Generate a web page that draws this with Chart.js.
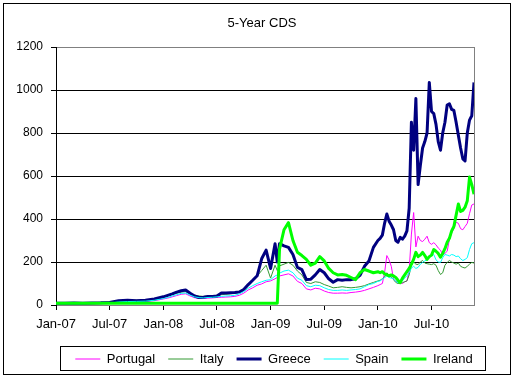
<!DOCTYPE html>
<html lang="en">
<head>
  <meta charset="UTF-8" />
  <title>5-Year CDS</title>
  <script src="https://cdn.jsdelivr.net/npm/chart.js"></script>
  <style>
    html, body { margin: 0; padding: 0; background: #fff; }
  </style>
</head>
<body>
  <canvas id="cds" width="514" height="377"></canvas>

  <script>
    // months since Jan 2007 (finer steps where the lines move a lot)
    const months = [
      0, 1, 2, 3, 4, 5, 6, 7, 8, 9, 10, 11, 12,
      12.5, 13, 13.5, 14, 14.5, 15, 15.5, 16, 16.5, 17, 17.5, 18, 18.5, 19, 19.5, 20, 20.5, 21, 21.5, 22, 22.5, 23, 23.5, 24, 24.5, 24.75,
      25, 25.5, 26, 26.5, 27, 27.5, 28, 28.5, 29, 29.5, 30, 30.5, 31, 31.5, 32, 32.5, 33, 33.5, 34, 34.5, 35, 35.5, 36,
      36.25, 36.5, 36.75, 37, 37.25, 37.5, 37.75, 38, 38.25, 38.5, 38.75, 39, 39.25, 39.5, 39.75, 40,
      40.25, 40.5, 40.75, 41, 41.25, 41.5, 41.75, 42, 42.25, 42.5, 42.75, 43, 43.25, 43.5, 43.75, 44,
      44.25, 44.5, 44.75, 45, 45.25, 45.5, 45.75, 46, 46.25, 46.5, 46.75
    ];
    const xTickLabels = ['Jan-07', 'Jul-07', 'Jan-08', 'Jul-08', 'Jan-09', 'Jul-09', 'Jan-10', 'Jul-10'];

    const portugal = [
      5, 5, 5, 5, 5, 6, 8, 12, 14, 15, 16, 20, 28,
      32, 38, 44, 50, 52, 42, 34, 30, 30, 32, 33, 35, 36, 37, 38, 40, 45, 55, 70, 80, 92, 98, 108, 112, 122, 128,
      135, 140, 145, 135, 110, 100, 75, 70, 78, 75, 65, 58, 55, 55, 56, 55, 58, 60, 63, 68, 75, 82, 90,
      95, 100, 150, 230, 210, 180, 120, 110, 108, 104, 100, 108, 112, 160, 330, 430,
      270, 320, 300, 295, 306, 320, 290, 282, 290, 280, 265, 255, 235, 240, 250, 305,
      335, 355, 385, 380, 355, 350, 365, 380, 425, 465, 470
    ];
    const italy = [
      10, 10, 10, 10, 11, 12, 14, 20, 22, 22, 23, 28, 36,
      42, 50, 55, 60, 62, 52, 45, 42, 40, 42, 43, 45, 48, 50, 52, 55, 62, 75, 95, 112, 135, 160, 185, 125, 185, 160,
      182, 190, 198, 185, 158, 140, 105, 100, 108, 105, 95, 88, 80, 82, 85, 82, 80, 82, 85, 90, 98, 105, 112,
      115, 122, 130, 150, 138, 130, 118, 105, 100, 102, 104, 108, 112, 140, 185, 200,
      190, 188, 200, 207, 195, 192, 190, 188, 192, 185, 160, 142, 150, 185, 198, 207,
      200, 195, 190, 195, 180, 175, 172, 180, 190, 198, 195
    ];
    const greece = [
      8, 8, 9, 8, 9, 10, 12, 20, 22, 20, 22, 28, 38,
      45, 52, 60, 66, 70, 55, 42, 35, 36, 40, 40, 42, 56, 56, 57, 58, 60, 72, 95, 115, 136, 215, 255, 170, 285, 200,
      285, 275, 268, 235, 175, 165, 118, 120, 140, 165, 150, 122, 106, 118, 115, 118, 118, 122, 138, 180, 205, 268, 300,
      310, 325, 380, 423, 390, 372, 350, 300, 292, 315, 306, 320, 345, 450, 850, 720,
      960, 560, 650, 730, 760, 800, 1035, 900, 890, 840, 760, 720, 800, 850, 930, 936,
      910, 905, 850, 790, 730, 680, 670, 800, 860, 880, 1035
    ];
    const spain = [
      6, 6, 6, 6, 7, 7, 9, 14, 16, 17, 18, 22, 30,
      35, 42, 48, 54, 56, 46, 38, 34, 33, 35, 36, 38, 40, 42, 43, 45, 52, 62, 78, 90, 100, 108, 115, 118, 135, 140,
      148, 158, 162, 150, 125, 115, 90, 85, 92, 90, 80, 72, 68, 68, 70, 68, 70, 72, 75, 85, 95, 100, 110,
      112, 120, 127, 135, 128, 125, 122, 110, 104, 106, 112, 125, 136, 150, 172, 180,
      170, 175, 190, 198, 205, 212, 220, 228, 235, 210, 200, 198, 220, 235, 232, 228,
      235, 232, 225, 228, 215, 207, 212, 220, 258, 285, 290
    ];
    const ireland = [
      8, 8, 8, 8, 8, 8, 8, 8, 8, 8, 8, 8, 8,
      8, 8, 8, 8, 8, 8, 8, 8, 8, 8, 8, 8, 8, 8, 8, 8, 8, 8, 8, 8, 8, 8, 8, 8, 8, 8,
      260, 350, 383, 300, 245, 230, 212, 185, 195, 225, 205, 170, 150, 140, 142, 138, 128, 118, 150, 165, 158, 150, 155,
      150, 155, 145, 140, 136, 140, 135, 128, 115, 104, 125, 140, 155, 170, 190, 212,
      245, 225, 232, 245, 230, 212, 225, 232, 258, 250, 240, 222, 240, 262, 292, 310,
      345, 365, 418, 470, 435, 440, 455, 485, 595, 560, 515
    ];

    Chart.defaults.font.family = "'Liberation Sans', Arial, sans-serif";
    Chart.defaults.color = '#000';

    const legendShift = 17; // legend sits a bit right of the canvas centre

    // outer frame, title and the box round the legend
    const framePlugin = {
      id: 'frame',
      beforeDraw(chart) {
        const lg = chart.legend;
        if (lg && !lg._moved) {
          lg.left += legendShift;
          lg.right += legendShift;
          lg.legendHitBoxes.forEach(h => { h.left += legendShift; });
          lg._moved = true;
        }
      },
      afterDraw(chart) {
        const ctx = chart.ctx;
        ctx.save();
        ctx.strokeStyle = '#000';
        ctx.lineWidth = 1;
        ctx.strokeRect(3.5, 3.5, 507, 371);

        ctx.fillStyle = '#000';
        ctx.font = "13px 'Liberation Sans', Arial, sans-serif";
        ctx.textAlign = 'center';
        ctx.textBaseline = 'middle';
        ctx.fillText('5-Year CDS', 262, 23);

        const hb = chart.legend.legendHitBoxes;
        if (hb && hb.length) {
          const first = hb[0], last = hb[hb.length - 1];
          const left = Math.round(first.left - 15) + 0.5;
          const right = Math.round(last.left + last.width + 12) + 0.5;
          const cy = Math.round(first.top + first.height / 2);
          ctx.strokeRect(left, cy - 12.5, right - left, 24);
        }
        ctx.restore();
      }
    };

    const ctx = document.getElementById('cds').getContext('2d');

    const chart = new Chart(ctx, {
      type: 'line',
      data: {
        labels: months,
        datasets: [
          { label: 'Portugal', data: portugal, borderColor: '#ff00ff', borderWidth: 1, order: 4 },
          { label: 'Italy', data: italy, borderColor: '#339933', borderWidth: 1, order: 3 },
          { label: 'Greece', data: greece, borderColor: '#000080', borderWidth: 3, order: 2 },
          { label: 'Spain', data: spain, borderColor: '#00ffff', borderWidth: 1, order: 1 },
          { label: 'Ireland', data: ireland, borderColor: '#00ff00', borderWidth: 3, order: 0 }
        ]
      },
      options: {
        responsive: false,
        animation: false,
        devicePixelRatio: 1,
        layout: { padding: { left: 0, right: 0, top: 47, bottom: 1.5 } },
        elements: {
          point: { radius: 0 },
          line: { tension: 0, borderJoinStyle: 'round', fill: false }
        },
        scales: {
          x: {
            type: 'linear',
            min: 0,
            max: 46.75,
            afterFit: s => { s.height = 34.5; },
            border: { color: '#808080' },
            grid: { drawOnChartArea: false, drawTicks: true, tickLength: 5, tickColor: '#000' },
            ticks: {
              stepSize: 6,
              includeBounds: false,
              autoSkip: false,
              maxRotation: 0,
              padding: 7,
              font: { size: 13 },
              callback: v => xTickLabels[v / 6]
            }
          },
          y: {
            min: 0,
            max: 1200,
            afterFit: s => { s.width = 56; },
            border: { color: '#000' },
            grid: {
              tickLength: 5,
              tickColor: '#000',
              color: c => c.tick.value === 1200 ? '#808080' : (c.tick.value === 0 ? 'rgba(0,0,0,0)' : '#000')
            },
            ticks: { stepSize: 200, padding: 8, font: { size: 12 }, callback: v => String(v) }
          },
          y2: {
            position: 'right',
            min: 0,
            max: 1,
            afterFit: s => { s.width = 40; },
            border: { color: '#808080' },
            grid: { display: false },
            ticks: { display: false }
          }
        },
        plugins: {
          title: { display: false },
          tooltip: { enabled: false },
          legend: {
            position: 'bottom',
            labels: {
              usePointStyle: true,
              pointStyle: 'line',
              pointStyleWidth: 25,
              padding: 13,
              font: { size: 13 },
              color: '#000',
              sort: (a, b) => a.datasetIndex - b.datasetIndex
            }
          }
        }
      },
      plugins: [framePlugin]
    });
  </script>
</body>
</html>
